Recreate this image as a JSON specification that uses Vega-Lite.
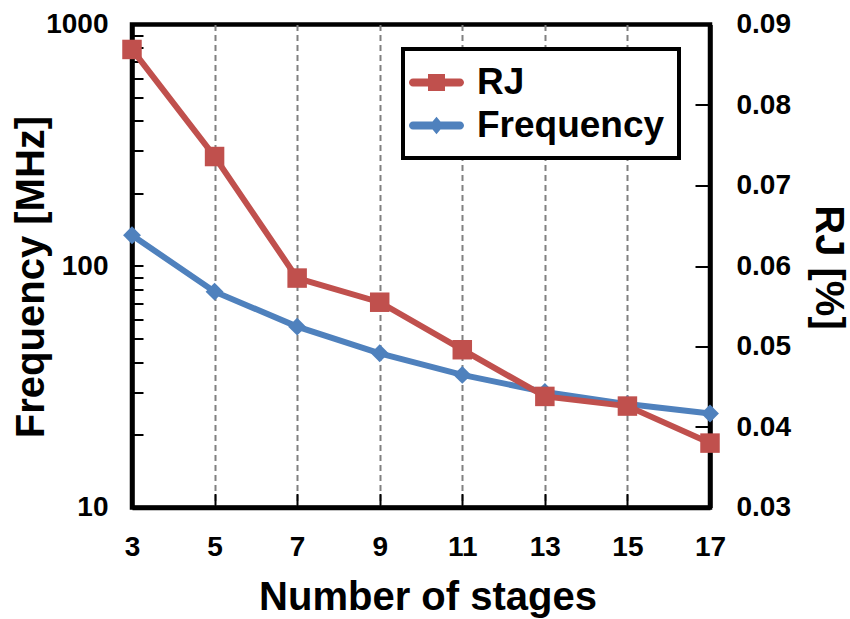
{
  "$schema": "https://vega.github.io/schema/vega-lite/v6.json",
  "width": 578,
  "height": 483,
  "autosize": {"type": "none"},
  "padding": {"left": 132, "top": 24.5, "right": 140, "bottom": 111.5},
  "background": "white",
  "data": {
    "values": [
      {"stages": 3, "series": "RJ", "value": 0.0869},
      {"stages": 5, "series": "RJ", "value": 0.0736},
      {"stages": 7, "series": "RJ", "value": 0.0585},
      {"stages": 9, "series": "RJ", "value": 0.0555},
      {"stages": 11, "series": "RJ", "value": 0.0496},
      {"stages": 13, "series": "RJ", "value": 0.0438},
      {"stages": 15, "series": "RJ", "value": 0.0426},
      {"stages": 17, "series": "RJ", "value": 0.0380},
      {"stages": 3, "series": "Frequency", "value": 134},
      {"stages": 5, "series": "Frequency", "value": 78.3},
      {"stages": 7, "series": "Frequency", "value": 56.1},
      {"stages": 9, "series": "Frequency", "value": 43.5},
      {"stages": 11, "series": "Frequency", "value": 35.4},
      {"stages": 13, "series": "Frequency", "value": 30.1},
      {"stages": 15, "series": "Frequency", "value": 26.8},
      {"stages": 17, "series": "Frequency", "value": 24.5}
    ]
  },
  "layer": [
    {
      "transform": [{"filter": "datum.series === 'Frequency'"}],
      "encoding": {
        "x": {
          "field": "stages", "type": "quantitative",
          "scale": {"domain": [3, 17], "nice": false, "zero": false},
          "axis": {
            "values": [3, 5, 7, 9, 11, 13, 15, 17],
            "grid": true, "gridDash": [6, 4], "gridColor": "#808080", "gridWidth": 2,
            "tickSize": -14, "labelPadding": 39.5,
            "title": "Number of stages", "titleX": 295.5, "titleY": 101.5,
            "titleBaseline": "alphabetic", "titleAlign": "center"
          }
        },
        "y": {
          "field": "value", "type": "quantitative",
          "scale": {"type": "log", "domain": [10, 1000], "nice": false},
          "axis": {
            "values": [10, 20, 30, 40, 50, 60, 70, 80, 90, 100, 200, 300, 400, 500, 600, 700, 800, 900, 1000],
            "format": "d",
            "labelExpr": "indexof([10, 100, 1000], datum.value) >= 0 ? datum.label : ''",
            "grid": false, "tickSize": -11, "labelPadding": 35,
            "title": "Frequency [MHz]", "titleX": -88.5, "titleY": 252,
            "titleBaseline": "alphabetic", "titleAlign": "center"
          }
        }
      },
      "layer": [
        {"mark": {"type": "line", "color": "#4F81BD", "strokeWidth": 6}},
        {"mark": {"type": "point", "shape": "diamond", "filled": true, "size": 320, "color": "#4F81BD", "opacity": 1}}
      ]
    },
    {
      "transform": [{"filter": "datum.series === 'RJ'"}],
      "encoding": {
        "x": {
          "field": "stages", "type": "quantitative",
          "scale": {"domain": [3, 17], "nice": false, "zero": false},
          "axis": {
            "values": [3, 5, 7, 9, 11, 13, 15, 17],
            "grid": true, "gridDash": [6, 4], "gridColor": "#808080", "gridWidth": 2,
            "tickSize": -14, "labelPadding": 39.5,
            "title": "Number of stages", "titleX": 295.5, "titleY": 101.5,
            "titleBaseline": "alphabetic", "titleAlign": "center"
          }
        },
        "y": {
          "field": "value", "type": "quantitative",
          "scale": {"domain": [0.03, 0.09], "nice": false, "zero": false},
          "axis": {
            "orient": "right",
            "values": [0.03, 0.04, 0.05, 0.06, 0.07, 0.08, 0.09],
            "format": ".2f",
            "grid": false, "tickSize": -15, "labelPadding": 41,
            "title": "RJ [%]", "titleX": 105, "titleY": 242.5,
            "titleBaseline": "alphabetic", "titleAlign": "center"
          }
        }
      },
      "layer": [
        {"mark": {"type": "line", "color": "#C0504D", "strokeWidth": 6}},
        {"mark": {"type": "point", "shape": "square", "filled": true, "size": 380, "color": "#C0504D", "opacity": 1}}
      ]
    },
    {
      "transform": [{"filter": "false"}],
      "mark": {"type": "point", "filled": true, "opacity": 1},
      "encoding": {
        "color": {
          "field": "series", "type": "nominal",
          "scale": {"domain": ["RJ", "Frequency"], "range": ["#C0504D", "#4F81BD"]},
          "legend": {
            "orient": "none", "legendX": 271, "legendY": 24.5, "padding": 14,
            "strokeColor": "black", "fillColor": "white",
            "symbolSize": 1521, "symbolStrokeWidth": 0, "symbolOpacity": 1,
            "labelFontSize": 37, "labelFont": "Liberation Sans", "labelFontWeight": "bold",
            "labelColor": "black", "labelOffset": 21, "labelLimit": 0, "rowPadding": 5, "title": null, "cornerRadius": 0
          }
        },
        "shape": {
          "field": "series", "type": "nominal",
          "scale": {
            "domain": ["RJ", "Frequency"],
            "range": [
              "M-1.205,-0.205H1.205A0.205,0.205 0 0 1 1.205,0.205H-1.205A0.205,0.205 0 0 1 -1.205,-0.205Z M-0.436,-0.436H0.436V0.436H-0.436Z",
              "M-1.205,-0.205H1.205A0.205,0.205 0 0 1 1.205,0.205H-1.205A0.205,0.205 0 0 1 -1.205,-0.205Z M0,-0.45L0.37,0L0,0.45L-0.37,0Z"
            ]
          },
          "legend": {
            "orient": "none", "legendX": 271, "legendY": 24.5, "padding": 14,
            "strokeColor": "black", "fillColor": "white",
            "symbolSize": 1521, "symbolStrokeWidth": 0, "symbolOpacity": 1,
            "labelFontSize": 37, "labelFont": "Liberation Sans", "labelFontWeight": "bold",
            "labelColor": "black", "labelOffset": 21, "labelLimit": 0, "rowPadding": 5, "title": null, "cornerRadius": 0
          }
        }
      }
    }
  ],
  "resolve": {"scale": {"y": "independent"}},
  "config": {
    "font": "Liberation Sans",
    "view": {"stroke": "black", "strokeWidth": 4.5},
    "legend": {"strokeWidth": 4},
    "axis": {
      "labelFont": "Liberation Sans", "labelFontWeight": "bold", "labelFontSize": 28, "labelColor": "black",
      "titleFont": "Liberation Sans", "titleFontWeight": "bold", "titleFontSize": 40, "titleColor": "black",
      "domainColor": "black", "domainWidth": 4.5, "tickColor": "black", "tickWidth": 2,
      "labelOverlap": false, "labelBound": false, "labelFlush": false
    }
  }
}
